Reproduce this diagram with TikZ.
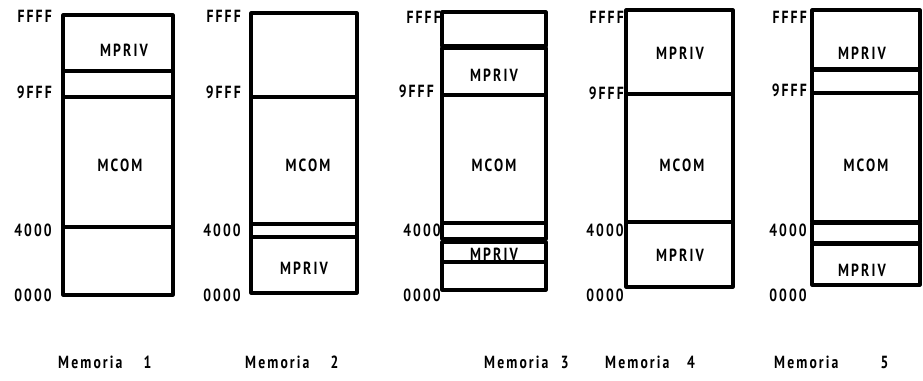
\documentclass[tikz,border=0pt]{standalone}
\usepackage{fontspec}
\setmainfont{PT Sans}[LetterSpace=12, FakeStretch=0.78]
\tikzset{
    seg/.style={draw=black, line width=2.7pt, line join=round},
    region/.style={inner sep=0pt, font=\bfseries\fontsize{15}{17}\selectfont},
    addr/.style={inner sep=0pt, anchor=east, font=\bfseries\fontsize{15}{17}\selectfont},
    caption/.style={inner sep=0pt, anchor=west, font=\bfseries\fontsize{15}{17}\selectfont}
}

\begin{document}
\begin{tikzpicture}[x=0.03cm, y=-0.03cm]
    \useasboundingbox (0,0) rectangle (923,380);

    % Memoria 1
    \foreach \a/\b in {15/71, 71/97, 97/227, 227/295}
        \draw[seg] (63,\a) rectangle (173,\b);
    \node[region] (m1priv) at (124,50)  {MPRIV};
    \node[region] (m1com)  at (120,165) {MCOM};
    \foreach \y/\t in {16/FFFF, 92/9FFF, 230/4000, 295/0000}
        \node[addr] (m1-\t) at (52,\y) {\t};

    % Memoria 2
    \foreach \a/\b in {13/97, 97/224, 224/237, 237/293}
        \draw[seg] (251,\a) rectangle (357,\b);
    \node[region] (m2com)  at (308,165) {MCOM};
    \node[region] (m2priv) at (304,268) {MPRIV};
    \foreach \y/\t in {16/FFFF, 92/9FFF, 230/4000, 295/0000}
        \node[addr] (m2-\t) at (241,\y) {\t};

    % Memoria 3
    \foreach \a/\b in {12/46, 48/95, 95/223, 223/239, 242/262, 262/290}
        \draw[seg] (442,\a) rectangle (546,\b);
    \node[region] (m3priv)  at (494,75)  {MPRIV};
    \node[region] (m3com)   at (494,165) {MCOM};
    \node[region] (m3priv2) at (494,254) {MPRIV};
    \foreach \y/\t/\x in {17/FFFF/441, 91/9FFF/434, 230/4000/441, 295/0000/441}
        \node[addr] (m3-\t) at (\x,\y) {\t};

    % Memoria 4
    \foreach \a/\b in {10/94, 94/222, 222/287}
        \draw[seg] (626,\a) rectangle (733,\b);
    \node[region] (m4priv)  at (680,53)  {MPRIV};
    \node[region] (m4com)   at (682,165) {MCOM};
    \node[region] (m4priv2) at (680,255) {MPRIV};
    \foreach \y/\t in {17/FFFF, 93/9FFF, 230/4000, 295/0000}
        \node[addr] (m4-\t) at (624,\y) {\t};

    % Memoria 5
    \foreach \a/\b in {10/69, 70/93, 93/222, 223/243, 244/285}
        \draw[seg] (812,\a) rectangle (920,\b);
    \node[region] (m5priv)  at (862,53)  {MPRIV};
    \node[region] (m5com)   at (866,165) {MCOM};
    \node[region] (m5priv2) at (862,270) {MPRIV};
    \foreach \y/\t in {17/FFFF, 90/9FFF, 230/4000, 295/0000}
        \node[addr] (m5-\t) at (807,\y) {\t};

    % Captions
    \node[caption] (cap1) at (58,362)  {Memoria\hspace{1.2em}1};
    \node[caption] (cap2) at (245,362) {Memoria\hspace{1.2em}2};
    \node[caption] (cap3) at (484,362) {Memoria\hspace{0.7em}3};
    \node[caption] (cap4) at (605,362) {Memoria\hspace{1em}4};
    \node[caption] (cap5) at (774,362) {Memoria\hspace{2.4em}5};
\end{tikzpicture}
\end{document}
